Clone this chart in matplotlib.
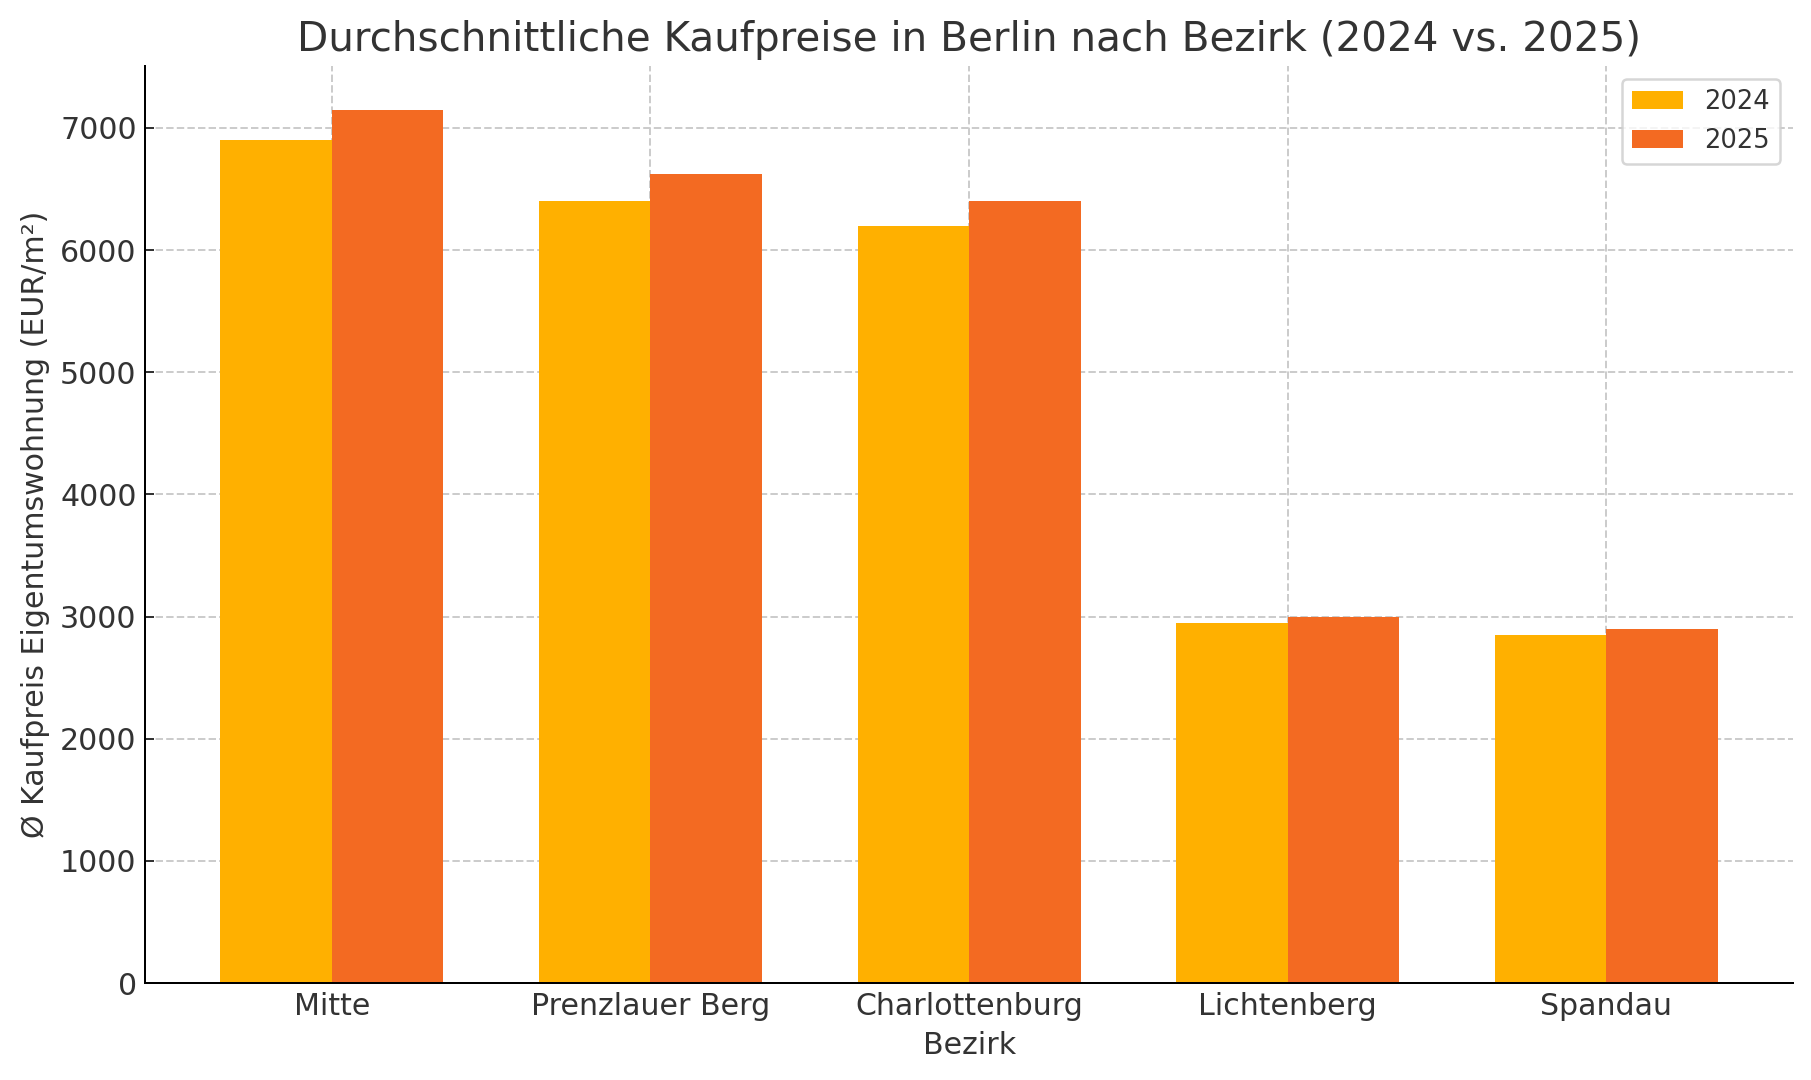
import numpy as np
import matplotlib
matplotlib.use('Agg')
import matplotlib.pyplot as plt

bezirke = ['Mitte', 'Prenzlauer Berg', 'Charlottenburg', 'Lichtenberg', 'Spandau']
preise_2024 = [6900, 6400, 6200, 2950, 2850]
preise_2025 = [7150, 6620, 6400, 3000, 2900]

textfarbe = '#333333'
plt.rcParams['text.color'] = textfarbe
plt.rcParams['axes.labelcolor'] = textfarbe
plt.rcParams['xtick.color'] = textfarbe
plt.rcParams['ytick.color'] = textfarbe

fig = plt.figure(figsize=(1811/180, 1080/180), dpi=180)
ax = fig.add_subplot(1, 1, 1)
fig.subplots_adjust(left=0.0803, right=0.990, top=0.939, bottom=0.0898)

x = np.arange(len(bezirke))
breite = 0.35
ax.bar(x - breite/2, preise_2024, breite, label='2024', color='#FFB000', zorder=2)
ax.bar(x + breite/2, preise_2025, breite, label='2025', color='#F36A22', zorder=2)

ax.set_xticks(x)
ax.set_xticklabels(bezirke, fontsize=12)
ax.tick_params(axis='both', direction='in', labelsize=12)
ax.set_xlabel('Bezirk', fontsize=12)
ax.set_ylabel('Ø Kaufpreis Eigentumswohnung (EUR/m²)', fontsize=12)
ax.set_title('Durchschnittliche Kaufpreise in Berlin nach Bezirk (2024 vs. 2025)', fontsize=16.2, pad=6)

ax.grid(True, linestyle='--', color='#cccccc', linewidth=0.8, zorder=0)
ax.spines['top'].set_visible(False)
ax.spines['right'].set_visible(False)
ax.legend(fontsize=10.3)

fig.savefig('out.png', dpi=180)
